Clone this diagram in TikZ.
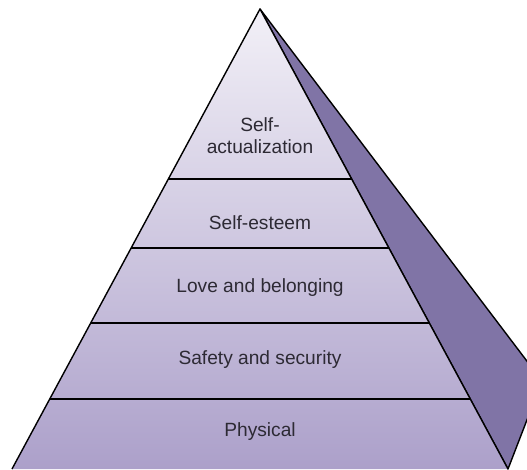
\documentclass[tikz,border=0pt]{standalone}
\usepackage{fontspec}
\setmainfont{Liberation Sans}
\usepackage{tikz}
\usetikzlibrary{calc}
\definecolor{tiertop}{RGB}{242,240,247}
\definecolor{tierbottom}{RGB}{172,160,202}
\definecolor{sideface}{RGB}{128,116,166}
\definecolor{labelgray}{RGB}{45,42,52}

\begin{document}
\begin{tikzpicture}[line join=round, edgeline/.style={draw=black, line width=0.8pt},
   tierlabel/.style={text=labelgray, align=center, font=\fontsize{10.9}{12.5}\selectfont}]
  \clip (0,0) rectangle (10.54,9.38);
  \coordinate (apex) at (5.2,9.2);
  \coordinate (bl) at (0.24,0);
  \coordinate (br) at (10.16,0);
  \coordinate (back) at (10.84,1.76);
  % side face first, so the front edge lies on top of it
  \filldraw[fill=sideface, edgeline] (apex) -- (back) -- (br) -- cycle;
  \shade[top color=tiertop, bottom color=tierbottom] (apex) -- (bl) -- (br) -- cycle;
  \draw[edgeline] (bl) -- (apex) -- (br);
  % tier borders
  \foreach \y in {5.8,4.42,2.92,1.4}
    \draw[edgeline] ($(apex)!{(9.2-\y)/9.2}!(bl)$) -- ($(apex)!{(9.2-\y)/9.2}!(br)$);
  \node[tierlabel] (selfact) at (5.2,6.66) {Self-\\actualization};
  \node[tierlabel] (esteem) at (5.2,4.92) {Self-esteem};
  \node[tierlabel] (love) at (5.2,3.62) {Love and belonging};
  \node[tierlabel] (safety) at (5.2,2.18) {Safety and security};
  \node[tierlabel] (physical) at (5.2,0.74) {Physical};
\end{tikzpicture}
\end{document}
